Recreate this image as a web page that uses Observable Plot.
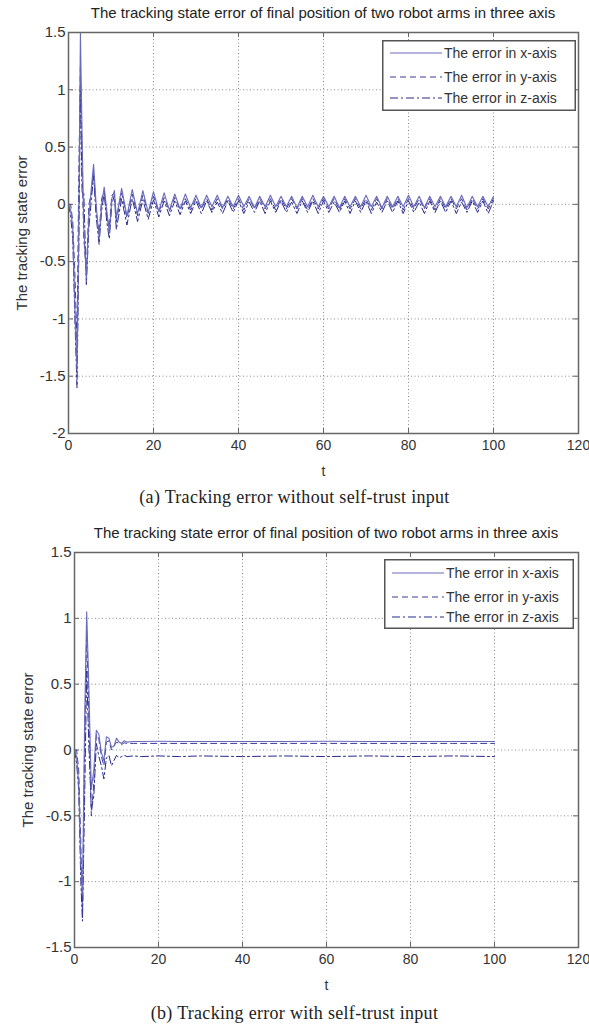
<!DOCTYPE html>
<html>
<head>
<meta charset="utf-8">
<script src="https://cdn.jsdelivr.net/npm/d3@7"></script>
<script src="https://cdn.jsdelivr.net/npm/@observablehq/plot@0.6"></script>
<style>
  html, body { margin: 0; padding: 0; background: #fff; }
  #page { position: relative; width: 589px; height: 1030px; background: #fff; overflow: hidden; }
  .abs { position: absolute; }
  .title { font-family: "Liberation Sans", Arial, sans-serif; font-size: 15px; color: #222; text-align: center; white-space: nowrap; }
  .caption { font-family: "Liberation Serif", "Times New Roman", serif; font-size: 18px; letter-spacing: 0.3px; color: #222; text-align: center; white-space: nowrap; width: 589px; left: 0; }
</style>
</head>
<body>
<div id="page"></div>
<script>
// ---------- data ----------
const titleText = "The tracking state error of final position of two robot arms in three axis";
const yLabelText = "The tracking state error";
const xLabelText = "t";
const captionA = "(a) Tracking error without self-trust input";
const captionB = "(b) Tracking error with self-trust input";
const legendLabels = ["The error in x-axis", "The error in y-axis", "The error in z-axis"];

const xTicks = [0, 20, 40, 60, 80, 100, 120];
const yTicksA = [-2, -1.5, -1, -0.5, 0, 0.5, 1, 1.5];
const yTicksB = [-1.5, -1, -0.5, 0, 0.5, 1, 1.5];

// Panel (a): without self-trust input
const tA = [0, 0.5, 1, 1.5, 2, 2.4, 2.8, 3.2, 3.6, 4.2, 4.8, 5.4, 5.9, 6.5, 7.2, 7.8, 8.4, 9, 9.6, 10.2, 10.8,
  11.25, 12.5, 13.75, 15, 16.25, 17.5, 18.75, 20, 21.25, 22.5, 23.75, 25, 26.25, 27.5, 28.75, 30,
  31.25, 32.5, 33.75, 35, 36.25, 37.5, 38.75, 40, 41.25, 42.5, 43.75, 45, 46.25, 47.5, 48.75, 50,
  51.25, 52.5, 53.75, 55, 56.25, 57.5, 58.75, 60, 61.25, 62.5, 63.75, 65, 66.25, 67.5, 68.75, 70,
  71.25, 72.5, 73.75, 75, 76.25, 77.5, 78.75, 80, 81.25, 82.5, 83.75, 85, 86.25, 87.5, 88.75, 90,
  91.25, 92.5, 93.75, 95, 96.25, 97.5, 98.75, 100];
const xErrA = [0, -0.05, -0.2, -0.9, -1.45, -0.3, 1.5, 0.6, -0.2, -0.65, -0.1, 0.15, 0.35, 0.0, -0.3, 0.0, 0.15, -0.05, -0.25, 0.05, 0.12,
  -0.12, 0.14, -0.10, 0.13, -0.08, 0.12, -0.07, 0.11, -0.06, 0.10, -0.05, 0.09, -0.04, 0.09, -0.03, 0.08,
  -0.03, 0.08, -0.02, 0.08, -0.03, 0.07, -0.02, 0.08, -0.02, 0.07, -0.03, 0.07, -0.02, 0.08, -0.02, 0.07,
  -0.02, 0.07, -0.03, 0.07, -0.02, 0.08, -0.02, 0.07, -0.02, 0.07, -0.03, 0.07, -0.02, 0.07, -0.02, 0.08,
  -0.02, 0.07, -0.03, 0.07, -0.02, 0.07, -0.02, 0.08, -0.02, 0.07, -0.03, 0.07, -0.02, 0.07, -0.02, 0.07,
  -0.02, 0.08, -0.03, 0.07, -0.02, 0.07, -0.02, 0.07];
const yErrA = [0, 0, -0.15, -0.6, -1.2, 0.2, 1.2, 0.3, -0.3, -0.6, 0.0, 0.1, 0.3, -0.05, -0.25, 0.05, 0.12, -0.1, -0.2, 0.08, 0.1,
  -0.15, 0.10, -0.12, 0.09, -0.10, 0.08, -0.08, 0.07, -0.07, 0.06, -0.06, 0.06, -0.05, 0.05, -0.05, 0.05,
  -0.04, 0.05, -0.05, 0.05, -0.04, 0.05, -0.04, 0.05, -0.05, 0.05, -0.04, 0.05, -0.04, 0.05, -0.05, 0.05,
  -0.04, 0.05, -0.04, 0.05, -0.05, 0.05, -0.04, 0.05, -0.04, 0.05, -0.05, 0.05, -0.04, 0.05, -0.04, 0.05,
  -0.05, 0.05, -0.04, 0.05, -0.04, 0.05, -0.05, 0.05, -0.04, 0.05, -0.04, 0.05, -0.05, 0.05, -0.04, 0.05,
  -0.04, 0.05, -0.05, 0.05, -0.04, 0.05, -0.04, 0.05];
const zErrA = [0, -0.1, -0.3, -1.0, -1.6, -0.5, 1.0, 0.1, 0.1, -0.7, -0.2, 0.05, 0.25, -0.1, -0.35, -0.05, 0.1, -0.15, -0.3, 0.0, 0.08,
  -0.22, 0.05, -0.18, 0.05, -0.15, 0.04, -0.13, 0.04, -0.11, 0.03, -0.10, 0.03, -0.09, 0.03, -0.08, 0.03,
  -0.08, 0.03, -0.07, 0.02, -0.08, 0.03, -0.07, 0.03, -0.08, 0.02, -0.07, 0.03, -0.08, 0.03, -0.07, 0.03,
  -0.07, 0.02, -0.08, 0.03, -0.07, 0.03, -0.08, 0.03, -0.07, 0.02, -0.07, 0.03, -0.08, 0.03, -0.07, 0.03,
  -0.08, 0.02, -0.07, 0.03, -0.07, 0.03, -0.08, 0.03, -0.07, 0.02, -0.08, 0.03, -0.07, 0.03, -0.07, 0.03,
  -0.08, 0.02, -0.07, 0.03, -0.07, 0.03, -0.08, 0.03];

// Panel (b): with self-trust input
const tB = [0, 0.5, 1, 1.5, 1.9, 2.4, 2.9, 3.4, 4, 4.6, 5.2, 5.8, 6.4, 7, 7.6, 8.2, 8.8, 9.4, 10, 10.6, 11.2, 11.8,
  12.5, 14, 16, 20, 25, 30, 40, 50, 60, 70, 80, 90, 100];
const xErrB = [0, -0.05, -0.25, -0.85, -1.1, 0.2, 1.05, 0.5, -0.3, -0.15, 0.15, 0.12, -0.02, -0.08, 0.1, 0.09, 0.02, 0.03, 0.09, 0.06, 0.05, 0.07,
  0.06, 0.065, 0.064, 0.066, 0.065, 0.065, 0.064, 0.065, 0.066, 0.065, 0.065, 0.065, 0.065];
const yErrB = [0, 0, -0.15, -0.7, -1.25, 0.0, 0.9, 0.3, -0.5, -0.25, 0.12, 0.08, -0.05, -0.12, 0.06, 0.07, 0.0, 0.03, 0.06, 0.05, 0.04, 0.055,
  0.05, 0.05, 0.05, 0.05, 0.05, 0.05, 0.05, 0.05, 0.05, 0.05, 0.05, 0.05, 0.05];
const zErrB = [0, -0.1, -0.3, -1.0, -1.3, -0.4, 0.6, 0.05, -0.45, -0.35, 0.05, -0.05, -0.12, -0.22, -0.06, -0.04, -0.12, -0.08, -0.04, -0.06, -0.05, -0.04,
  -0.05, -0.045, -0.05, -0.045, -0.05, -0.045, -0.05, -0.045, -0.05, -0.045, -0.05, -0.045, -0.05];

// ---------- styles ----------
const colX = "#6a6abd", colY = "#3a3a9c", colZ = "#28288a";
const dashY = "6,4", dashZ = "8,3,2,3";
const frameColor = "#666";
const gridColor = "#8a8a8a";

function panel({t, xs, ys, zs, yTicks, yDomain, height, marginTop, marginBottom, marginLeft, marginRight}) {
  const plotH = height - marginTop - marginBottom;
  const plotW = 589 - marginLeft - marginRight;
  const dy = 5 * (yDomain[1] - yDomain[0]) / plotH;
  const dx = 5 * 120 / plotW;
  const ymin = yDomain[0], ymax = yDomain[1];
  const innerY = yTicks.filter(v => v > ymin && v < ymax);
  const innerX = xTicks.filter(v => v > 0 && v < 120);
  return Plot.plot({
    width: 589, height, marginTop, marginBottom, marginLeft, marginRight,
    style: {fontFamily: "'Liberation Sans', Arial, sans-serif", fontSize: "14px", color: "#333", background: "transparent"},
    x: {domain: [0, 120]},
    y: {domain: yDomain},
    marks: [
      Plot.ruleX(innerX, {stroke: gridColor, strokeDasharray: "1,2.5", strokeWidth: 1}),
      Plot.ruleY(innerY, {stroke: gridColor, strokeDasharray: "1,2.5", strokeWidth: 1}),
      Plot.ruleX(innerX, {y1: ymin, y2: ymin + dy, stroke: frameColor}),
      Plot.ruleX(innerX, {y1: ymax, y2: ymax - dy, stroke: frameColor}),
      Plot.ruleY(innerY, {x1: 0, x2: dx, stroke: frameColor}),
      Plot.ruleY(innerY, {x1: 120, x2: 120 - dx, stroke: frameColor}),
      Plot.lineY(zs, {x: t, stroke: colZ, strokeWidth: 1, strokeDasharray: dashZ}),
      Plot.lineY(ys, {x: t, stroke: colY, strokeWidth: 1, strokeDasharray: dashY}),
      Plot.lineY(xs, {x: t, stroke: colX, strokeWidth: 1.1}),
      Plot.frame({stroke: frameColor, strokeWidth: 1.5}),
      Plot.axisX({ticks: xTicks, tickSize: 0, tickPadding: 7, tickFormat: d => String(d), label: xLabelText, labelAnchor: "center", labelArrow: "none", labelOffset: 42}),
      Plot.axisY({ticks: yTicks, tickSize: 0, tickPadding: 3, tickFormat: d => String(d), label: yLabelText, labelAnchor: "center", labelArrow: "none", labelOffset: 52, fontSize: 15})
    ]
  });
}

function legend(left, top, w, h, rows) {
  const ns = "http://www.w3.org/2000/svg";
  const svg = document.createElementNS(ns, "svg");
  svg.setAttribute("width", w);
  svg.setAttribute("height", h);
  svg.setAttribute("class", "abs");
  svg.style.left = left + "px";
  svg.style.top = top + "px";
  const box = document.createElementNS(ns, "rect");
  box.setAttribute("x", 0.75); box.setAttribute("y", 0.75);
  box.setAttribute("width", w - 1.5); box.setAttribute("height", h - 1.5);
  box.setAttribute("fill", "#fff"); box.setAttribute("stroke", "#555"); box.setAttribute("stroke-width", 1.5);
  svg.appendChild(box);
  const styles = [[colX, null], [colY, dashY], [colZ, dashZ]];
  legendLabels.forEach((lab, i) => {
    const y = rows[i];
    const ln = document.createElementNS(ns, "line");
    ln.setAttribute("x1", 8); ln.setAttribute("x2", 60);
    ln.setAttribute("y1", y); ln.setAttribute("y2", y);
    ln.setAttribute("stroke", styles[i][0]); ln.setAttribute("stroke-width", 1.2);
    if (styles[i][1]) ln.setAttribute("stroke-dasharray", styles[i][1]);
    svg.appendChild(ln);
    const tx = document.createElementNS(ns, "text");
    tx.setAttribute("x", 62); tx.setAttribute("y", y);
    tx.setAttribute("dy", "0.35em");
    tx.setAttribute("font-family", "'Liberation Sans', Arial, sans-serif");
    tx.setAttribute("font-size", "14px");
    tx.setAttribute("fill", "#333");
    tx.textContent = lab;
    svg.appendChild(tx);
  });
  return svg;
}

const page = document.getElementById("page");

function place(el, left, top) {
  el.classList.add("abs");
  el.style.left = left + "px";
  el.style.top = top + "px";
  page.appendChild(el);
  return el;
}
function textDiv(cls, txt, left, top, width) {
  const d = document.createElement("div");
  d.className = cls + " abs";
  d.textContent = txt;
  d.style.left = left + "px";
  d.style.top = top + "px";
  if (width) d.style.width = width + "px";
  page.appendChild(d);
  return d;
}

// Panel (a)
place(panel({t: tA, xs: xErrA, ys: yErrA, zs: zErrA, yTicks: yTicksA, yDomain: [-2, 1.5],
  height: 480, marginTop: 32, marginBottom: 47, marginLeft: 68, marginRight: 11}), 0, 0);
textDiv("title", titleText, 68, 4, 510);
page.appendChild(legend(382, 40, 194, 71, [13, 37, 58]));
textDiv("caption", captionA, 0, 487);

// Panel (b)
place(panel({t: tB, xs: xErrB, ys: yErrB, zs: zErrB, yTicks: yTicksB, yDomain: [-1.5, 1.5],
  height: 494, marginTop: 52, marginBottom: 47, marginLeft: 74, marginRight: 11}), 0, 500);
textDiv("title", titleText, 74, 524, 504);
page.appendChild(legend(384, 559, 190, 70, [14, 38, 58]));
textDiv("caption", captionB, 0, 1003);
</script>
</body>
</html>
